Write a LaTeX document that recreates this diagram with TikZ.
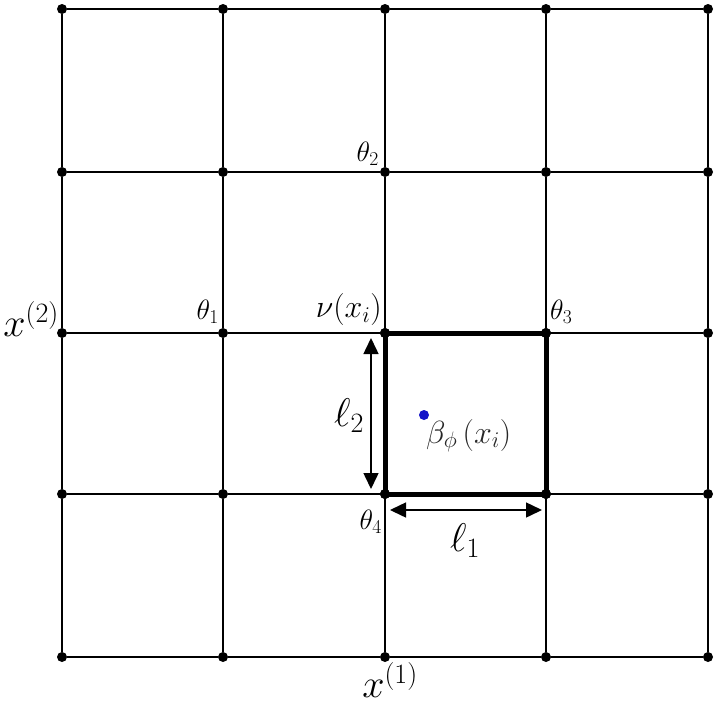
\RequirePackage{fix-cm}
\documentclass[tikz,border=0pt]{standalone}
\usepackage{amsmath}
\usetikzlibrary{arrows.meta}
\definecolor{dotblue}{RGB}{20,20,200}
\tikzset{
  gdot/.style={circle,fill=black,inner sep=0pt,minimum size=10pt},
  gline/.style={line width=2pt,black},
  bline/.style={line width=5pt,black,line cap=round},
  darrow/.style={line width=1.5pt,{Triangle[length=16pt,width=15pt]}-{Triangle[length=16pt,width=15pt]}},
  smalllab/.style={inner sep=0pt,font=\fontsize{28}{32}\selectfont},
  midlab/.style={inner sep=0pt,font=\fontsize{32}{36}\selectfont},
  biglab/.style={inner sep=0pt,font=\fontsize{40}{44}\selectfont},
  axlab/.style={inner sep=0pt,font=\fontsize{40}{44}\selectfont}
}
\begin{document}
\begin{tikzpicture}[x=1pt,y=-1pt]
\useasboundingbox (0,0) rectangle (718,705);
% grid points
\foreach \i/\x in {1/62,2/223,3/385,4/546,5/708}{
  \foreach \j/\y in {1/9,2/172,3/333,4/494,5/657}{
    \node[gdot] (p\i\j) at (\x,\y) {};
  }
}
% grid lines
\foreach \i in {1,...,5}{
  \draw[gline] (p\i1) -- (p\i2) -- (p\i3) -- (p\i4) -- (p\i5);
  \draw[gline] (p1\i) -- (p2\i) -- (p3\i) -- (p4\i) -- (p5\i);
}
% thick cell
\draw[bline] (p33.center) -- (p43.center) -- (p44.center) -- (p34.center) -- cycle;
\foreach \n in {p33,p43,p44,p34}{\node[gdot] at (\n) {};}
% arrows
\coordinate (a2t) at (371,338);
\coordinate (a2b) at (371,489);
\coordinate (a1l) at (390,510);
\coordinate (a1r) at (542,510);
\draw[darrow] (a2t) -- (a2b);
\draw[darrow] (a1l) -- (a1r);
% blue point
\node[circle,fill=dotblue,inner sep=0pt,minimum size=10pt] (beta) at (424,415) {};
% labels
\node[smalllab,anchor=south east] (t2) at (379,166) {$\theta_2$};
\node[smalllab,anchor=south east] (t1) at (219,324) {$\theta_1$};
\node[midlab,anchor=south east] (nu) at (382,326) {$\nu(x_i)$};
\node[smalllab,anchor=south west] (t3) at (550,324) {$\theta_3$};
\node[smalllab,anchor=north east] (t4) at (382,510) {$\theta_4$};
\node[midlab,anchor=north west,text=black!85] (bl) at (426,419) {$\beta_{\phi}\,(x_i)$};
\node[biglab] (l2) at (349,416) {$\ell_2$};
\node[biglab] (l1) at (465,541) {$\ell_1$};
\node[axlab,anchor=south east] (x2) at (59,337) {$x^{(2)}$};
\node[axlab,anchor=north] (x1) at (390,662) {$x^{(1)}$};
\end{tikzpicture}
\end{document}
